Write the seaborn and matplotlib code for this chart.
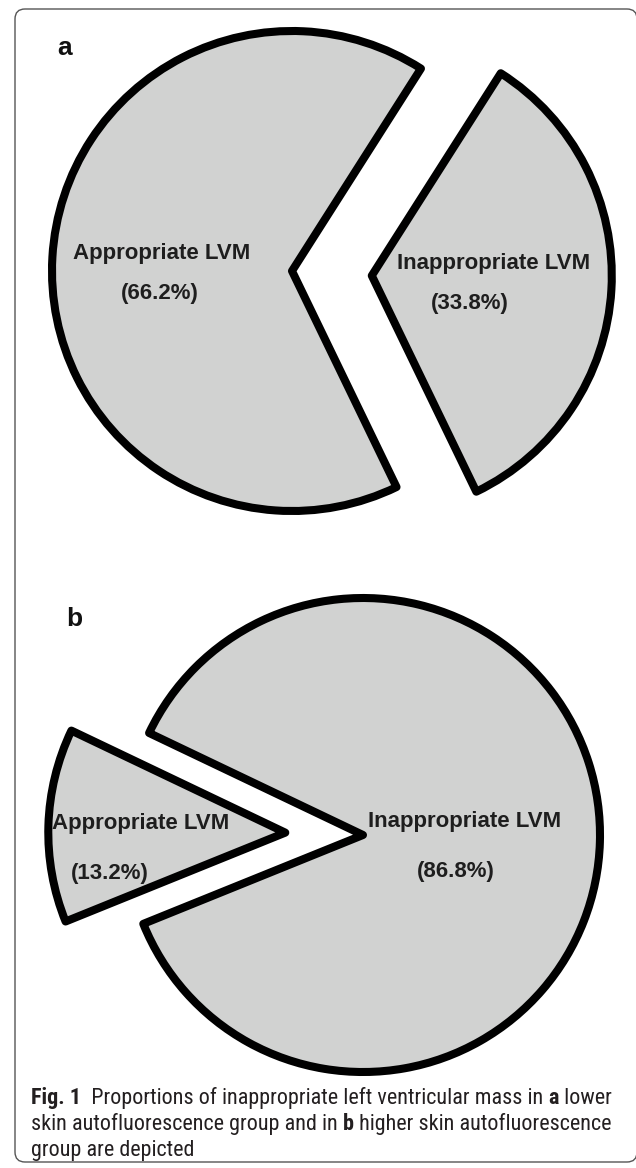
import matplotlib
matplotlib.use("Agg")
import matplotlib.pyplot as plt
import seaborn as sns
from matplotlib import font_manager as fm
from matplotlib.patches import FancyBboxPatch

# ---------------- data ----------------
panel_letters = ["a", "b"]
categories_a = ["Appropriate LVM", "Inappropriate LVM"]
values_a = [66.2, 33.8]
categories_b = ["Appropriate LVM", "Inappropriate LVM"]
values_b = [13.2, 86.8]
caption_lines = [
    [("Fig. 1", True), ("  Proportions of inappropriate left ventricular mass in ", False),
     ("a", True), (" lower", False)],
    [("skin autofluorescence group and in ", False), ("b", True),
     (" higher skin autofluorescence", False)],
    [("group are depicted", False)],
]

# ---------------- style ----------------
sns.set_theme(style="white")
plt.rcParams["font.family"] = ["Liberation Sans", "DejaVu Sans"]

W, H = 636, 1168
fig = plt.figure(figsize=(W / 100, H / 100), dpi=100)
fig.patch.set_facecolor("white")

FILL = "#d1d2d1"
EDGE = "#000000"
TXT = "#1e1e1e"

# background axes in pixel coordinates (for the frame and caption)
bg = fig.add_axes([0, 0, 1, 1], zorder=-5)
bg.set_xlim(0, W)
bg.set_ylim(H, 0)
bg.axis("off")
bg.add_patch(FancyBboxPatch((15, 9), 622, 1153,
                            boxstyle="round,pad=0,rounding_size=10",
                            facecolor="white", edgecolor="#555555", linewidth=1.0))

layouts = [
    dict(cats=categories_a, vals=values_a, cx=292, cy=271, r=240, start=57.5,
         explode=[0, 0.333], lab=[(162, 254), (494, 263)], pct=[(160, 294), (470, 303)],
         letter=(65, 48)),
    dict(cats=categories_b, vals=values_b, cx=363, cy=835, r=237, start=154.5,
         explode=[0.328, 0], lab=[(141, 824), (465, 821)], pct=[(110, 874), (456, 871)],
         letter=(74, 619)),
]

L = 1.45
for letter, lay in zip(panel_letters, layouts):
    cx, cy, r = lay["cx"], lay["cy"], lay["r"]
    side = 2 * L * r
    ax = fig.add_axes([(cx - L * r) / W, (H - cy - L * r) / H, side / W, side / H])
    ax.pie(lay["vals"], startangle=lay["start"], counterclock=True,
           explode=lay["explode"], colors=[FILL, FILL],
           wedgeprops=dict(edgecolor=EDGE, linewidth=5.8, joinstyle="round"))
    ax.set_xlim(-L, L)
    ax.set_ylim(-L, L)
    ax.set_aspect("equal")
    ax.axis("off")
    for cat, v, (lx, ly), (px, py) in zip(lay["cats"], lay["vals"], lay["lab"], lay["pct"]):
        ax.text((lx - cx) / r, (cy - ly) / r, cat, ha="center", va="center",
                fontsize=16, fontweight="bold", color=TXT)
        ax.text((px - cx) / r, (cy - py) / r, f"({v:.1f}%)", ha="center", va="center",
                fontsize=16, fontweight="bold", color=TXT)
    lx, ly = lay["letter"]
    bg.text(lx, ly, letter, ha="center", va="center", fontsize=19,
            fontweight="bold", color="#111111")


# ---------------- caption font: a condensed sans with a regular weight ----------------
def wnum(w):
    if isinstance(w, (int, float)):
        return w
    return fm.weight_dict.get(str(w), 400)


ttf = fm.fontManager.ttflist
cap_family, cap_stretch = "Lato", "normal"
done = False
for fam in ["Noto Sans Condensed", "Noto Sans SemiCondensed", "Roboto Condensed",
            "Liberation Sans Narrow", "DejaVu Sans Condensed"]:
    if any(f.name == fam and wnum(f.weight) <= 500 for f in ttf):
        cap_family, done = fam, True
        break
if not done:
    for fam in ["Noto Sans", "Roboto", "Open Sans", "DejaVu Sans"]:
        regs = [f for f in ttf if f.name == fam and f.stretch in ("condensed", "semi-condensed")
                and wnum(f.weight) <= 500 and f.style == "normal"]
        if regs:
            cap_family = fam
            cap_stretch = regs[0].stretch
            break

CAP_FONT = [cap_family, "DejaVu Sans"]
CAP_COL = "#231f20"
renderer = fig.canvas.get_renderer()


def seg_width(txt, bold, size):
    def w(s):
        t = bg.text(0, 0, s, fontsize=size, family=CAP_FONT, fontstretch=cap_stretch,
                    fontweight="bold" if bold else "normal")
        bb = t.get_window_extent(renderer)
        t.remove()
        return bb.width
    return w("X" + txt + "X") - w("XX")


target = 579.0
test = sum(seg_width(s, b, 10) for s, b in caption_lines[0])
cap_size = 10 * target / test

x0 = 31
baselines = [1104, 1130, 1156]
for line, yb in zip(caption_lines, baselines):
    x = x0
    for txt, bold in line:
        bg.text(x, yb, txt, fontsize=cap_size, family=CAP_FONT, fontstretch=cap_stretch,
                ha="left", va="baseline",
                fontweight="bold" if bold else "normal", color=CAP_COL)
        x += seg_width(txt, bold, cap_size)

fig.savefig("out.png", dpi=100, facecolor="white")
